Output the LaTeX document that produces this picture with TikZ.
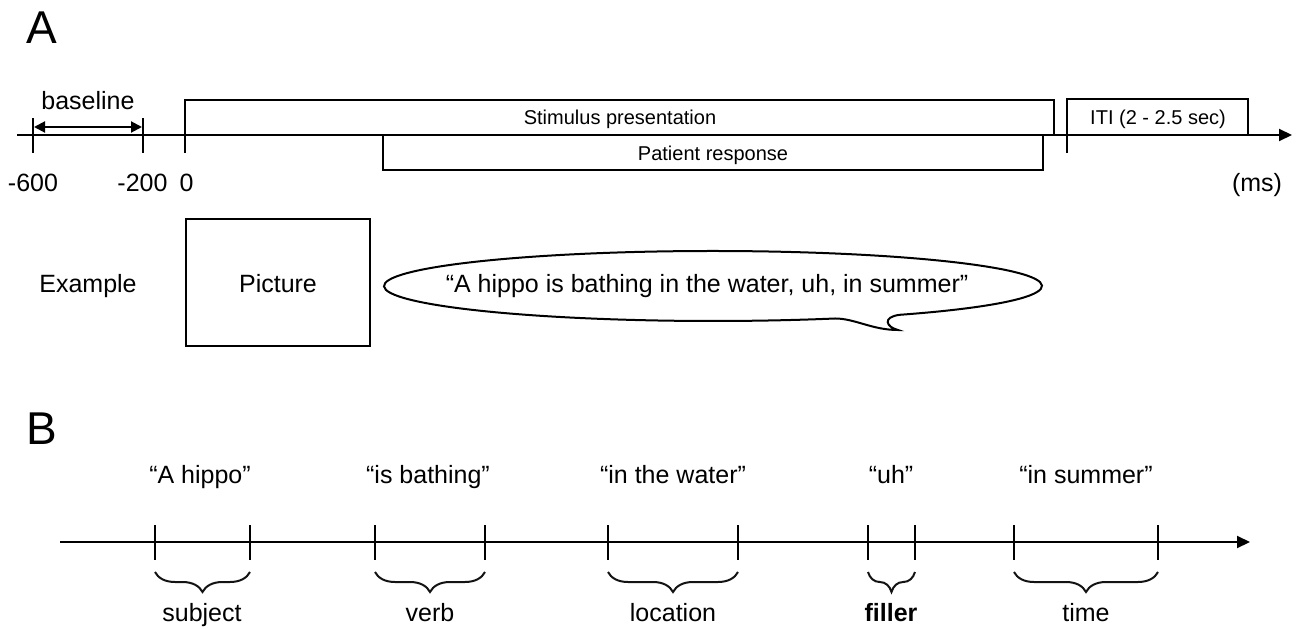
\documentclass[tikz,border=0pt]{standalone}
\usepackage{fontspec}
\setmainfont{Liberation Sans}
\usetikzlibrary{arrows.meta,decorations.pathreplacing}
\tikzset{
  lbl/.style={font=\fontsize{25}{30}\selectfont},
  boxlbl/.style={font=\fontsize{20}{24}\selectfont},
  panel/.style={font=\fontsize{46}{50}\selectfont},
  timeaxis/.style={line width=2pt,-{Triangle[length=13pt,width=12pt]}},
  tickline/.style={line width=2pt},
  boxline/.style={line width=2pt},
  curly/.style={line width=2pt,gray!15!black,decorate,decoration={brace,mirror,amplitude=20pt}}
}
\begin{document}
\begin{tikzpicture}[x=1pt,y=-1pt]
    \useasboundingbox (0,0) rectangle (1301,629);
    % panel A
    \node[panel,anchor=base] (pa) at (42,43) {A};
    \coordinate (axA0) at (17,135);
    \coordinate (axA1) at (1292,135);
    \coordinate (t600) at (33,135);
    \coordinate (t200) at (143,135);
    \coordinate (t0) at (185,135);
    \coordinate (titi) at (1067,135);
    \draw[timeaxis] (axA0)--(axA1);
    \draw[tickline] ([yshift=17pt]t600)--([yshift=-18pt]t600);
    \draw[tickline] ([yshift=17pt]t200)--([yshift=-18pt]t200);
    \draw[tickline] ([yshift=-18pt]titi)--(1067,99)--(1248,99)--(1248,135);
    \draw[tickline] ([yshift=-18pt]t0)--(185,100)--(1054,100)--(1054,135);
    \draw[line width=2pt,{Triangle[length=11pt,width=11pt]}-{Triangle[length=11pt,width=11pt]}] (34,127)--(142,127);
    \node[lbl,anchor=base] (bl) at (88,109) {baseline};
    \node[boxlbl,anchor=base] (stim) at (620,124.5) {Stimulus presentation};
    \node[boxlbl,anchor=base] (iti) at (1158,124) {ITI (2 - 2.5 sec)};
    \node[boxline,draw,minimum width=660pt,minimum height=35pt] (resp) at (713,152.5) {};
    \node[boxlbl,anchor=base] (resplbl) at (713,160) {Patient response};
    \node[lbl,anchor=base] (m600) at (33,191) {-600};
    \node[lbl,anchor=base] (m200) at (142.5,191) {-200};
    \node[lbl,anchor=base] (z0) at (186.5,191) {0};
    \node[lbl,anchor=base] (ms) at (1257,191) {(ms)};
    \node[lbl,anchor=base] (ex) at (88,292) {Example};
    \node[boxline,draw,minimum width=184pt,minimum height=127pt] (pic) at (278,282.5) {};
    \node[lbl,anchor=base] (piclbl) at (278,292) {Picture};
    % speech bubble
    \draw[line width=2pt] (899.8,314.8) arc[start angle=55.4,end angle=-291.8,x radius=329,y radius=35]
        .. controls (855,318.5) and (872,330) .. (898,330)
        .. controls (886,327) and (882,317) .. (899.8,314.8);
    \node[lbl,anchor=base] (say) at (707,292) {“A hippo is bathing in the water, uh, in summer”};
    % panel B
    \node[panel,anchor=base] (pb) at (42,444) {B};
    \coordinate (axB0) at (60,542);
    \coordinate (axB1) at (1250,542);
    \draw[timeaxis] (axB0)--(axB1);
    \coordinate (s1a) at (155,542); \coordinate (s1b) at (250,542);
    \coordinate (s2a) at (375,542); \coordinate (s2b) at (485,542);
    \coordinate (s3a) at (608,542); \coordinate (s3b) at (738,542);
    \coordinate (s4a) at (868,542); \coordinate (s4b) at (915,542);
    \coordinate (s5a) at (1014,542); \coordinate (s5b) at (1158,542);
    \draw[tickline] ([yshift=17pt]s1a)--([yshift=-18pt]s1a);
    \draw[tickline] ([yshift=17pt]s1b)--([yshift=-18pt]s1b);
    \draw[tickline] ([yshift=17pt]s2a)--([yshift=-18pt]s2a);
    \draw[tickline] ([yshift=17pt]s2b)--([yshift=-18pt]s2b);
    \draw[tickline] ([yshift=17pt]s3a)--([yshift=-18pt]s3a);
    \draw[tickline] ([yshift=17pt]s3b)--([yshift=-18pt]s3b);
    \draw[tickline] ([yshift=17pt]s4a)--([yshift=-18pt]s4a);
    \draw[tickline] ([yshift=17pt]s4b)--([yshift=-18pt]s4b);
    \draw[tickline] ([yshift=17pt]s5a)--([yshift=-18pt]s5a);
    \draw[tickline] ([yshift=17pt]s5b)--([yshift=-18pt]s5b);
    \draw[curly] ([yshift=-30pt]s1a)--([yshift=-30pt]s1b);
    \draw[curly] ([yshift=-30pt]s2a)--([yshift=-30pt]s2b);
    \draw[curly] ([yshift=-30pt]s3a)--([yshift=-30pt]s3b);
    \draw[curly] ([yshift=-30pt]s4a)--([yshift=-30pt]s4b);
    \draw[curly] ([yshift=-30pt]s5a)--([yshift=-30pt]s5b);
    \node[lbl,anchor=base] (q1) at (200,483) {“A hippo”};
    \node[lbl,anchor=base] (q2) at (428,483) {“is bathing”};
    \node[lbl,anchor=base] (q3) at (673,483) {“in the water”};
    \node[lbl,anchor=base] (q4) at (891,483) {“uh”};
    \node[lbl,anchor=base] (q5) at (1086,483) {“in summer”};
    \node[lbl,anchor=base] (w1) at (202,621) {subject};
    \node[lbl,anchor=base] (w2) at (430,621) {verb};
    \node[lbl,anchor=base] (w3) at (673,621) {location};
    \node[lbl,anchor=base] (w4) at (891,621) {\bfseries filler};
    \node[lbl,anchor=base] (w5) at (1086,621) {time};
\end{tikzpicture}
\end{document}
